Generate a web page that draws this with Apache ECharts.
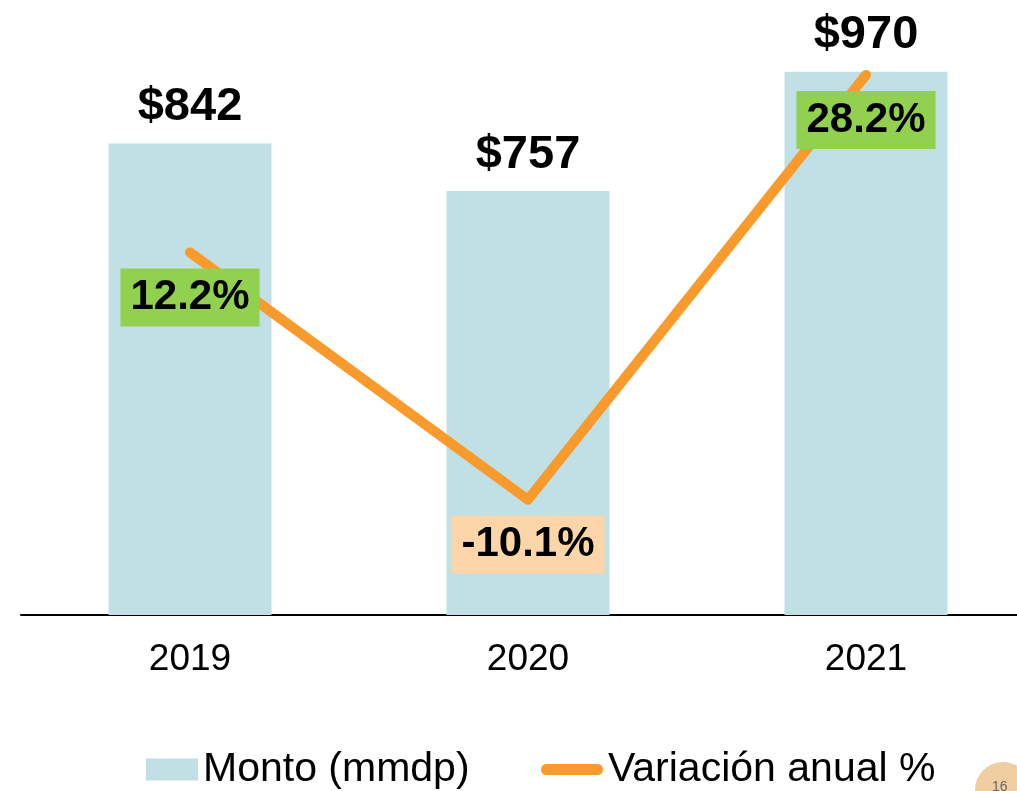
<!DOCTYPE html>
<html>
<head>
<meta charset="utf-8">
<script src="https://cdn.jsdelivr.net/npm/echarts@6/dist/echarts.min.js"></script>
<style>
  html, body { margin: 0; padding: 0; background: #fff; }
  #chart { width: 1017px; height: 791px; }
</style>
</head>
<body>
<div id="chart"></div>
<script>
// datos
const years = ["2019", "2020", "2021"];
const monto = [842, 757, 970];
const variacion = [12.2, -10.1, 28.2];

const FONT = "'Liberation Sans', Arial, sans-serif";
const BAR_COLOR = "#C1E0E5";
const LINE_COLOR = "#F89A2C";
const POS_BG = "#92D050";
const NEG_BG = "#FCD5A8";

const chart = echarts.init(document.getElementById("chart"));

chart.setOption({
  animation: false,
  textStyle: { fontFamily: FONT },
  grid: { left: 21, width: 1014, top: 55, height: 560, outerBoundsMode: "none", containLabel: false },
  xAxis: {
    type: "category",
    data: years,
    axisLine: { lineStyle: { color: "#000", width: 2 } },
    axisTick: { show: false },
    axisLabel: { fontSize: 37, color: "#000", margin: 26, fontFamily: FONT },
  },
  yAxis: [
    { type: "value", min: 0, max: 1000, show: false, splitLine: { show: false } },
    { type: "value", min: -20.5, max: 30, show: false, splitLine: { show: false } },
  ],
  legend: [
    {
      data: ["Monto (mmdp)"],
      left: 141,
      top: 744,
      icon: "rect",
      itemWidth: 52,
      itemHeight: 22,
      textStyle: { fontSize: 41, color: "#000", fontFamily: FONT },
    },
    {
      data: ["Variación anual %"],
      left: 536,
      top: 744,
      icon: "path://M5.5,0 H56.5 A5.5,5.5 0 0 1 56.5,11 H5.5 A5.5,5.5 0 0 1 5.5,0 Z",
      itemWidth: 62,
      itemHeight: 11,
      itemStyle: { color: LINE_COLOR },
      textStyle: { fontSize: 41, color: "#000", fontFamily: FONT },
    },
  ],
  series: [
    {
      name: "Monto (mmdp)",
      type: "bar",
      data: monto,
      barWidth: 163,
      itemStyle: { color: BAR_COLOR },
      label: {
        show: true,
        position: "top",
        distance: 13,
        fontSize: 47,
        fontWeight: "bold",
        color: "#000",
        fontFamily: FONT,
        formatter: (p) => "$" + p.value,
      },
    },
    {
      name: "Variación anual %",
      type: "line",
      yAxisIndex: 1,
      data: variacion.map((v) => ({
        value: v,
        label: { backgroundColor: v >= 0 ? POS_BG : NEG_BG },
      })),
      symbol: "circle",
      symbolSize: 2,
      itemStyle: { color: LINE_COLOR },
      lineStyle: { color: LINE_COLOR, width: 10, cap: "round", join: "round" },
      z: 3,
      label: {
        show: true,
        position: "bottom",
        distance: 15,
        fontSize: 42,
        fontWeight: "bold",
        color: "#000",
        fontFamily: FONT,
        lineHeight: 42,
        padding: [8, 10],
        formatter: (p) => p.value.toFixed(1) + "%",
      },
    },
  ],
  graphic: [
    {
      type: "circle",
      shape: { cx: 1003, cy: 790, r: 28 },
      style: { fill: "#F0CEA2" },
      silent: true,
    },
    {
      type: "text",
      x: 992,
      y: 780,
      style: { text: "16", fontSize: 14, fill: "#666", fontFamily: FONT },
      silent: true,
    },
  ],
});
</script>
</body>
</html>
